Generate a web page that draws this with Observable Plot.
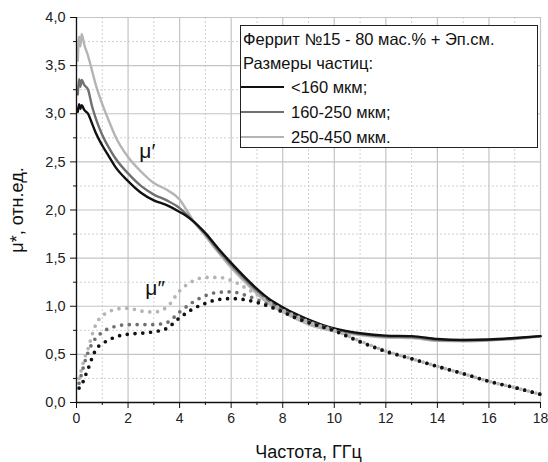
<!DOCTYPE html>
<html><head><meta charset="utf-8">
<script src="https://cdn.jsdelivr.net/npm/d3@7"></script>
<script src="https://cdn.jsdelivr.net/npm/@observablehq/plot@0.6"></script>
<style>
body{margin:0;background:#fff;font-family:"Liberation Sans",Arial,sans-serif;}
#wrap{position:relative;width:548px;height:462px;}
#legend{position:absolute;left:240px;top:25px;width:296px;height:121px;border:1px solid #222;background:#fff;font-size:16.5px;color:#111;}
#legend .t{position:absolute;left:2px;white-space:nowrap;line-height:20px;}
#legend .r{position:absolute;left:0;height:20px;white-space:nowrap;line-height:20px;}
#legend .r span.l{position:absolute;left:0;top:9px;width:43px;}
#legend .r span.x{position:absolute;left:50px;top:0;}
</style></head><body>
<div id="wrap"><div id="chart"></div><div id="legend"></div></div>
<script>
// ---- data ----
const seriesNames = ["<160 мкм;", "160-250 мкм;", "250-450 мкм."];
const seriesColors = ["#111111", "#707070", "#b4b4b4"];
const legendTitle = "Феррит №15 - 80 мас.% + Эп.см.";
const legendSubtitle = "Размеры частиц:";

const freqRe = [0.05,0.1,0.15,0.2,0.3,0.45,0.6,0.75,1,1.25,1.5,2,2.5,3,3.5,4,4.25,4.5,5,5.5,6,6.5,7,7.5,8,8.5,9,9.5,10,11,12,13,14,15,16,17,18];
const muRe160 = [3.02,3.10,3.05,3.09,3.04,3.00,2.90,2.80,2.67,2.56,2.45,2.30,2.18,2.10,2.05,1.98,1.94,1.89,1.76,1.60,1.45,1.31,1.18,1.07,0.99,0.92,0.86,0.81,0.77,0.72,0.695,0.69,0.66,0.65,0.655,0.67,0.69];
const muRe250 = [3.20,3.36,3.28,3.35,3.30,3.25,3.08,2.95,2.78,2.65,2.54,2.38,2.25,2.16,2.10,2.02,1.96,1.89,1.75,1.58,1.43,1.29,1.16,1.05,0.97,0.90,0.84,0.79,0.76,0.71,0.685,0.68,0.65,0.645,0.65,0.665,0.69];
const muRe450 = [3.55,3.80,3.70,3.83,3.72,3.60,3.45,3.30,3.10,2.93,2.77,2.55,2.40,2.28,2.21,2.11,2.01,1.90,1.73,1.56,1.40,1.26,1.13,1.02,0.94,0.87,0.81,0.77,0.74,0.70,0.675,0.67,0.64,0.635,0.645,0.66,0.685];

const freqIm = [0.1,0.2,0.3,0.45,0.6,0.75,1,1.25,1.5,2,2.5,3,3.5,4,4.5,5,5.5,6,6.5,7,7.5,8,8.5,9,10,11,12,13,14,15,16,17,18];
const muIm160 = [0.15,0.18,0.25,0.35,0.46,0.55,0.61,0.65,0.68,0.71,0.72,0.735,0.77,0.88,0.97,1.03,1.07,1.08,1.07,1.04,0.995,0.94,0.88,0.83,0.745,0.63,0.53,0.455,0.375,0.30,0.22,0.155,0.085];
const muIm250 = [0.20,0.30,0.40,0.52,0.61,0.67,0.73,0.77,0.79,0.81,0.81,0.81,0.83,0.94,1.04,1.11,1.145,1.15,1.12,1.07,1.01,0.95,0.89,0.84,0.75,0.635,0.535,0.455,0.375,0.30,0.22,0.155,0.085];
const muIm450 = [0.25,0.35,0.45,0.56,0.70,0.81,0.90,0.94,0.97,0.98,0.95,0.94,0.99,1.16,1.26,1.30,1.30,1.27,1.20,1.12,1.04,0.96,0.90,0.84,0.75,0.64,0.535,0.455,0.375,0.30,0.22,0.155,0.085];

const xMajor = [0,2,4,6,8,10,12,14,16,18];
const xMinor = [1,3,5,7,9,11,13,15,17];
const yMajor = [0,0.5,1,1.5,2,2.5,3,3.5,4];
const yMinor = [0.25,0.75,1.25,1.75,2.25,2.75,3.25,3.75];
const xLabel = "Частота, ГГц";
const yLabel = "μ*, отн.ед.";
const annRe = {f: 2.75, v: 2.61, text: "μ′"};
const annIm = {f: 3.05, v: 1.19, text: "μ″"};

// ---- build ----
const reSets = [muRe160, muRe250, muRe450];
const imSets = [muIm160, muIm250, muIm450];
const reRows = reSets.map((arr, s) => arr.map((v, i) => ({f: freqRe[i], v, s})));
const imRows = imSets.map((arr, s) => arr.map((v, i) => ({f: freqIm[i], v, s})));
const fmt = d => d.toFixed(1).replace(".", ",");

const marks = [
  Plot.ruleX(xMinor, {stroke: "#d0d0d0", strokeDasharray: "2,2"}),
  Plot.ruleY(yMinor, {stroke: "#d0d0d0", strokeDasharray: "2,2"}),
  Plot.ruleX(xMajor, {stroke: "#c4c4c4", strokeWidth: 1.2}),
  Plot.ruleY(yMajor, {stroke: "#c4c4c4", strokeWidth: 1.2}),
];
[2,1,0].forEach(s => marks.push(Plot.line(reRows[s], {x: "f", y: "v", stroke: seriesColors[s], strokeWidth: 2.4, curve: "monotone-x"})));
[2,1,0].forEach(s => marks.push(Plot.line(imRows[s], {x: "f", y: "v", stroke: seriesColors[s], strokeWidth: 3.7, strokeDasharray: "0,7.8", strokeLinecap: "round", curve: "monotone-x"})));
marks.push(
  Plot.ruleX([0], {stroke: "#111", strokeWidth: 1.3}),
  Plot.ruleY([0], {stroke: "#111", strokeWidth: 1.3}),
  Plot.axisY(yMajor, {label: null, tickSize: 6, tickPadding: 5, tickFormat: fmt, fontSize: 14.5, color: "#222", stroke: "#111"}),
  Plot.axisY(yMinor, {label: null, tickSize: 3, tickFormat: () => "", stroke: "#111"}),
  Plot.axisX(xMajor, {label: null, tickSize: 6, tickPadding: 5, tickFormat: d => String(d), fontSize: 14, color: "#222", stroke: "#111"}),
  Plot.axisX(xMinor, {label: null, tickSize: 3, tickFormat: () => "", stroke: "#111"}),
  Plot.text([xLabel], {frameAnchor: "bottom", dy: 50, fontSize: 18, fill: "#111", lineAnchor: "middle"}),
  Plot.text([yLabel], {frameAnchor: "left", dx: -59, rotate: -90, fontSize: 18, fill: "#111", lineAnchor: "middle", textAnchor: "middle"}),
  Plot.text([annRe], {x: "f", y: "v", text: "text", fontSize: 21, fill: "#111"}),
  Plot.text([annIm], {x: "f", y: "v", text: "text", fontSize: 21, fill: "#111"})
);

const chart = Plot.plot({
  width: 548, height: 462,
  marginLeft: 76, marginRight: 8, marginTop: 17, marginBottom: 60,
  style: {fontFamily: '"Liberation Sans", Arial, sans-serif', background: "#fff", overflow: "visible"},
  x: {domain: [0, 18], axis: null},
  y: {domain: [0, 4], axis: null},
  marks
});
document.getElementById("chart").appendChild(chart);

// legend (HTML overlay)
const lg = document.getElementById("legend");
const addT = (txt, top) => { const d = document.createElement("div"); d.className = "t"; d.style.top = top + "px"; d.textContent = txt; lg.appendChild(d); };
addT(legendTitle, 3);
addT(legendSubtitle, 27);
seriesNames.forEach((n, i) => {
  const r = document.createElement("div"); r.className = "r"; r.style.top = (51 + i * 25) + "px";
  const l = document.createElement("span"); l.className = "l"; l.style.borderTop = (i === 0 ? 2.5 : 2.2) + "px solid " + seriesColors[i];
  const x = document.createElement("span"); x.className = "x"; x.textContent = n;
  r.appendChild(l); r.appendChild(x); lg.appendChild(r);
});
</script></body></html>
